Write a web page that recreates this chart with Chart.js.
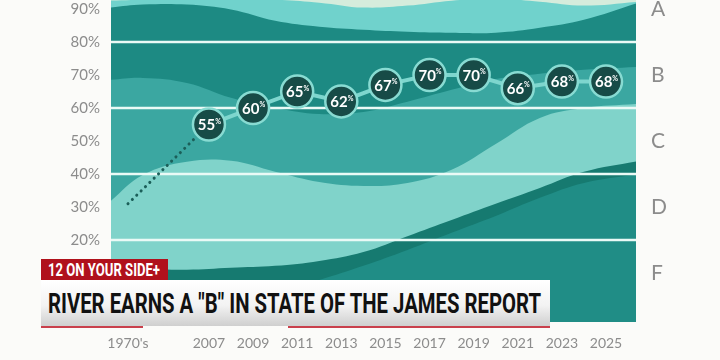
<!DOCTYPE html>
<html>
<head>
<meta charset="utf-8">
<script src="https://cdn.jsdelivr.net/npm/chart.js@4.4.1/dist/chart.umd.min.js"></script>
<style>
  html, body { margin: 0; padding: 0; background: #fbfbf9; }
  #wrap { position: relative; width: 720px; height: 360px; overflow: hidden; }
  .tag {
    position: absolute; left: 41px; top: 259px; width: 127px; height: 21px;
    background: #b0111c; color: #fff; font: 700 18px Roboto, sans-serif;
    line-height: 21px; white-space: nowrap; overflow: hidden;
  }
  .banner {
    position: absolute; left: 41px; top: 280px; width: 509px; height: 46px;
    background: linear-gradient(#ffffff 0%, #f3f3f3 55%, #cfcfcf 100%);
    overflow: hidden; white-space: nowrap;
  }
  .fit { display: inline-block; transform-origin: 0 50%; }
  .banner .fit { font: 700 27px Roboto, sans-serif; color: #111; margin: 8px 0 0 7px; letter-spacing: 0; }
  .tag .fit { margin-left: 7px; }
  .rule { position: absolute; top: 326px; height: 2px; background: #c9404c; }
</style>
</head>
<body>
<div id="wrap">
  <canvas id="chart"></canvas>
  <div class="tag"><span class="fit" data-w="112">12 ON YOUR SIDE+</span></div>
  <div class="banner"><span class="fit" data-w="493">RIVER EARNS A "B" IN STATE OF THE JAMES REPORT</span></div>
  <div class="rule" style="left:41px;width:102px"></div>
  <div class="rule" style="left:288px;width:262px"></div>
</div>
<script>
// score series
const tickLabels = ["1970's", "2007", "2009", "2011", "2013", "2015", "2017", "2019", "2021", "2023", "2025"];
const tickYears = [2003.33, 2007, 2009, 2011, 2013, 2015, 2017, 2019, 2021, 2023, 2025];
const scores = [31, 55, 60, 65, 62, 67, 70, 70, 66, 68, 68];

// axes
const pctTicks = [20, 30, 40, 50, 60, 70, 80, 90];
const gradeTicks = [10, 30, 50, 70, 90];
const grades = ["F", "D", "C", "B", "A"];
const gradeCutoffs = [20, 40, 60, 80];

// background wave edges (percent), read at these years
const bandYears = [2002.5, 2004, 2006, 2008, 2010, 2012, 2014, 2016, 2018, 2020, 2022, 2024, 2026.5];
const aquaTop  = [92.5, 92.8, 93.1, 93.1, 92.8, 91.9, 90.4, 91.0, 92.5, 93.1, 92.2, 91.0, 92.2];
const tealTop  = [90.4, 91.3, 91.3, 89.8, 86.4, 84.6, 83.7, 83.1, 82.8, 82.8, 84.3, 86.7, 91.9];
const midTop   = [68.5, 69.1, 67.6, 63.1, 60.1, 58.2, 58.8, 61.9, 65.5, 68.8, 70.4, 71.6, 72.5];
const paleTop  = [31.6, 39.7, 43.7, 44.0, 40.7, 37.6, 36.4, 37.3, 41.3, 49.1, 57.0, 60.0, 61.3];
const deepTop  = [11.6, 11.3, 11.0, 11.6, 12.2, 13.7, 16.4, 21.2, 26.1, 31.0, 35.8, 40.7, 44.0];
const floorTop = [-7.3, -5.8, -2.7, 0.7, 4.3, 7.9, 12.2, 17.0, 22.2, 27.3, 32.8, 37.3, 40.0];

const Y_MIN = -4.8, Y_MAX = 92.7;
const grey = '#8c8c8c';

Chart.defaults.font.family = 'Lato, "Noto Sans", sans-serif';

const band = (edge, color, order) => ({
  data: bandYears.map((x, i) => ({ x, y: edge[i] })),
  backgroundColor: color,
  borderWidth: 0,
  pointRadius: 0,
  fill: 'start',
  tension: 0.4,
  order
});

const bands = [
  band(aquaTop, '#70d2cc', 90),
  band(tealTop, '#1d8a83', 80),
  band(midTop, '#3ba7a1', 70),
  band(paleTop, '#80d3ca', 60),
  band(deepTop, '#167a70', 50),
  band(floorTop, '#208d86', 40)
];

const scoreSet = {
  data: tickYears.map((x, i) => ({ x, y: scores[i] })),
  borderColor: '#7ed6ce',
  borderWidth: 4,
  tension: 0,
  fill: false,
  order: 0,
  pointRadius: ctx => ctx.dataIndex === 0 ? 0 : 16,
  pointBackgroundColor: '#174b47',
  pointBorderColor: '#88dbd2',
  pointBorderWidth: 2.5,
  segment: {
    borderColor: ctx => ctx.p0DataIndex === 0 ? '#1b5f59' : undefined,
    borderDash: ctx => ctx.p0DataIndex === 0 ? [0.1, 6] : undefined,
    borderWidth: ctx => ctx.p0DataIndex === 0 ? 3 : undefined,
    borderCapStyle: ctx => ctx.p0DataIndex === 0 ? 'round' : undefined
  }
};
const scoreIndex = bands.length;

const overlay = {
  id: 'overlay',
  beforeDatasetsDraw(chart) {
    const { ctx, chartArea: a } = chart;
    ctx.save();
    ctx.fillStyle = '#d5ecdc';
    ctx.fillRect(a.left, a.top, a.right - a.left, a.bottom - a.top);
    ctx.restore();
  },
  beforeDatasetDraw(chart, args) {
    if (args.index !== scoreIndex) return;
    const { ctx, chartArea: a, scales: { y } } = chart;
    ctx.save();
    ctx.strokeStyle = '#eafaf6';
    ctx.lineWidth = 2.5;
    gradeCutoffs.forEach(v => {
      const py = Math.round(y.getPixelForValue(v));
      ctx.beginPath();
      ctx.moveTo(a.left, py);
      ctx.lineTo(a.right, py);
      ctx.stroke();
    });
    ctx.restore();
  },
  afterDatasetsDraw(chart) {
    const { ctx } = chart;
    const pts = chart.getDatasetMeta(scoreIndex).data;
    ctx.save();
    ctx.fillStyle = '#ffffff';
    ctx.textBaseline = 'middle';
    ctx.textAlign = 'left';
    pts.forEach((p, i) => {
      if (i === 0) return;
      const num = String(scores[i]);
      ctx.font = '700 15px Lato, sans-serif';
      const w1 = ctx.measureText(num).width;
      ctx.font = '700 7px Lato, sans-serif';
      const w2 = ctx.measureText('%').width;
      const x0 = p.x - (w1 + w2) / 2 + 0.5;
      ctx.font = '700 15px Lato, sans-serif';
      ctx.fillText(num, x0, p.y + 1);
      ctx.font = '700 7px Lato, sans-serif';
      ctx.fillText('%', x0 + w1, p.y - 3);
    });
    ctx.restore();
  }
};

const noPad = s => { s.paddingTop = 0; s.paddingBottom = 0; s.paddingLeft = 0; s.paddingRight = 0; };

new Chart(document.getElementById('chart'), {
  type: 'line',
  data: { datasets: [...bands, scoreSet] },
  options: {
    responsive: true,
    maintainAspectRatio: false,
    animation: false,
    layout: { padding: 0, autoPadding: false },
    plugins: { legend: { display: false }, tooltip: { enabled: false } },
    scales: {
      x: {
        type: 'linear',
        min: 2002.56,
        max: 2026.36,
        grid: { display: false, drawTicks: false },
        border: { display: false },
        afterBuildTicks: s => { s.ticks = tickYears.map(v => ({ value: v })); },
        afterFit: s => { s.height = 38; noPad(s); },
        ticks: {
          callback: (v, i) => tickLabels[i],
          padding: 13,
          color: grey,
          maxRotation: 0,
          autoSkip: false,
          font: { size: 14 }
        }
      },
      y: {
        min: Y_MIN,
        max: Y_MAX,
        position: 'left',
        grid: { display: false, drawTicks: false },
        border: { display: false },
        afterBuildTicks: s => { s.ticks = pctTicks.map(v => ({ value: v })); },
        afterFit: s => { s.width = 111; noPad(s); },
        ticks: {
          callback: v => v + '%',
          padding: 11,
          color: grey,
          font: { size: 15 }
        }
      },
      y2: {
        min: Y_MIN,
        max: Y_MAX,
        position: 'right',
        grid: { display: false, drawTicks: false },
        border: { display: false },
        afterBuildTicks: s => { s.ticks = gradeTicks.map(v => ({ value: v })); },
        afterFit: s => { s.width = 84; noPad(s); },
        ticks: {
          callback: (v, i) => grades[i],
          padding: 15,
          color: grey,
          font: { size: 21 }
        }
      }
    }
  },
  plugins: [overlay]
});

// squeeze banner text to its box width
document.querySelectorAll('.fit').forEach(el => {
  const target = +el.dataset.w;
  el.style.transform = 'scaleX(' + (target / el.getBoundingClientRect().width) + ')';
});
</script>
</body>
</html>
